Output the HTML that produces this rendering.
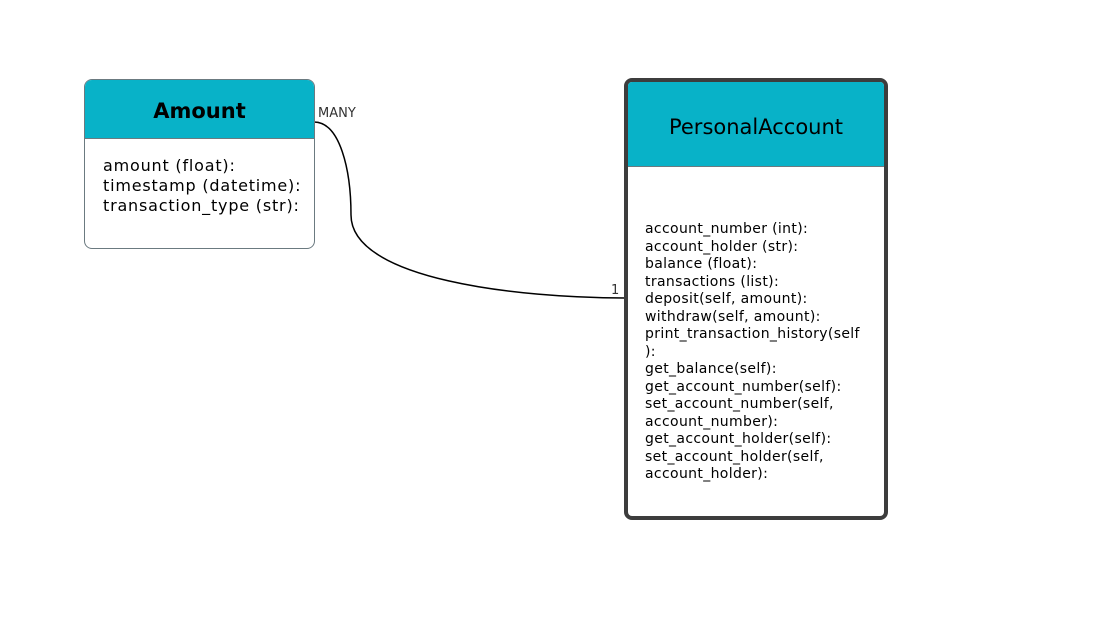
<!DOCTYPE html>
<html><head><style>
body{margin:0;width:1107px;height:633px;background:#fff;position:relative;overflow:hidden;font-family:"DejaVu Sans",Verdana,sans-serif;}
.box{position:absolute;background:#fff;box-sizing:border-box;overflow:hidden}
.hd{background:#08b2c8;display:flex;align-items:center;justify-content:center;color:#000;box-sizing:border-box}
.t{position:absolute;white-space:pre;color:#000}
</style></head><body>
<svg width="1107" height="633" style="position:absolute;left:0;top:0">
<path d="M314,122 C340,122 351,170 351,215 C351,280 520,298 625,298" fill="none" stroke="#000" stroke-width="1.5"/>
</svg>
<div class="box" style="left:84px;top:79px;width:231px;height:170px;border:1.5px solid #6b7a80;border-radius:8px">
<div class="hd" style="height:59px;padding-top:4px;border-bottom:1.5px solid #6b7a80;font-weight:bold;font-size:21px">Amount</div>
<div class="t" style="left:18px;top:76px;font-size:16px;letter-spacing:0.8px;line-height:20px">amount (float):
timestamp (datetime):
transaction_type (str):</div>
</div>
<div class="t" style="left:318px;top:106px;font-size:13px;color:#333">MANY</div>
<div class="t" style="left:611px;top:283px;font-size:13px;color:#333">1</div>
<div class="box" style="left:624px;top:78px;width:264px;height:442px;border:4px solid #3d3d3d;border-radius:8px">
<div class="hd" style="height:85px;padding-top:6px;border-bottom:1.5px solid #6b7a80;font-size:21px">PersonalAccount</div>
<div class="t" style="left:17px;top:139px;font-size:14px;letter-spacing:0.35px;line-height:17.5px">account_number (int):
account_holder (str):
balance (float):
transactions (list):
deposit(self, amount):
withdraw(self, amount):
print_transaction_history(self
):
get_balance(self):
get_account_number(self):
set_account_number(self,
account_number):
get_account_holder(self):
set_account_holder(self,
account_holder):</div>
</div>
</body></html>
